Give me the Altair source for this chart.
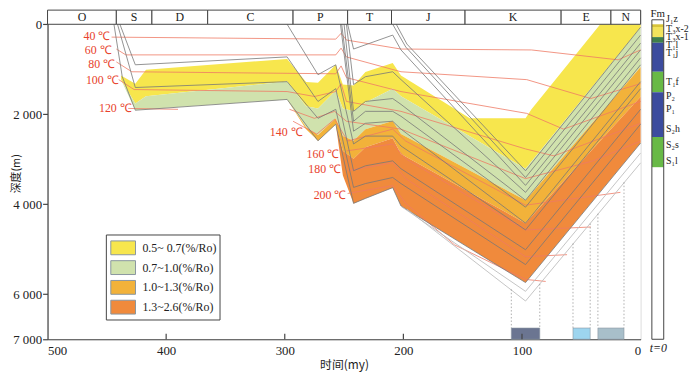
import altair as alt
import pandas as pd

SERIF = "Liberation Serif"
CJK = "Noto Sans CJK SC"

# ---------------- geological periods (top bar), boundaries as drawn ----------------
period_names = ["O", "S", "D", "C", "P", "T", "J", "K", "E", "N"]
period_start = [500, 442, 412, 365, 293, 247, 210, 148, 67, 25]
period_end = [442, 412, 365, 293, 247, 210, 148, 67, 25, 0]

# ---------------- maturity zones: boundaries (depth, m) at times (my) ----------------
zone_t = [438, 426, 417, 298, 282, 272, 257, 251, 242, 232, 209, 202, 144, 97, 92, 34, 0]
b0 = [1140, 1320, 1010, 770, 1280, 1300, 900, 1340, 1360, 1060, 860, 1140, 2090, 2090, 1890, 0, 0]
b1 = [1230, 1760, 1600, 1270, 1820, 1870, 1470, 1870, 1930, 1740, 1430, 1600, 2490, 3210, 3050, 1170, 70]
b2 = [1230, 1910, 1890, 1670, 2290, 2460, 2090, 2480, 2590, 2330, 2150, 2440, 3250, 3910, 3760, 1990, 950]
b3 = [1230, 1910, 1890, 1670, 2330, 2590, 2220, 2810, 2990, 2730, 2530, 2880, 3730, 4420, 4270, 2590, 1610]
b4 = [1230, 1910, 1890, 1670, 2330, 2590, 2220, 3360, 3980, 3870, 3630, 4040, 4980, 5740, 5580, 3720, 2640]
zone_labels = ["0.5~ 0.7(%/Ro)", "0.7~1.0(%/Ro)", "1.0~1.3(%/Ro)", "1.3~2.6(%/Ro)"]
zone_colors = ["#f7e64d", "#d0e2ad", "#f2b23a", "#f08a3c"]

# ---------------- burial history curves (time my, depth m) ----------------
s_bot_t = [444, 437, 426, 298, 272, 257, 242, 232, 209, 202, 97, 0]
s_bot_d = [0, 1165, 1910, 1670, 2590, 2220, 3980, 3870, 3630, 4040, 5740, 2640]
s_mid_t = [441, 426, 298, 272, 257, 242, 232, 209, 202, 97, 0]
s_mid_d = [0, 1405, 1275, 2090, 1890, 3625, 3540, 3405, 3540, 5340, 2220]
s_top_t = [439, 426, 298, 272, 257, 242, 232, 209, 202, 97, 0]
s_top_d = [0, 900, 725, 1715, 1430, 3255, 3145, 3035, 3210, 5010, 1890]
p_t = [298, 272, 257, 242, 232, 209, 202, 97, 0]
p_d = [0, 1120, 900, 2660, 2485, 2485, 2705, 4570, 1430]
t4_t = [253, 242, 232, 209, 202, 97, 0]
t4_d = [0, 2375, 2200, 2155, 2330, 4420, 1275]
t3_t = [252, 242, 232, 209, 202, 97, 0]
t3_d = [0, 2155, 1935, 1935, 2045, 4065, 900]
t2_t = [250, 242, 232, 209, 202, 97, 0]
t2_d = [0, 1935, 1715, 1650, 1780, 3910, 745]
t1_t = [248, 242, 232, 209, 202, 97, 0]
t1_d = [0, 1340, 1165, 1055, 1230, 3735, 570]
ttop_t = [247, 242, 209, 202, 97, 0]
ttop_d = [0, 550, 240, 570, 3580, 420]
jb_t = [209, 198, 97, 0]
jb_d = [0, 505, 3405, 240]
ja_t = [206, 197, 97, 0]
ja_d = [0, 440, 3255, 65]
l1_t = [202, 97, 0]
l1_d = [4045, 5935, 2860]
l2_t = [197, 97, 0]
l2_d = [4110, 6150, 3080]

# ---------------- isotherms ----------------
iso40_t = [446, 257, 252.5, 248, 202, 92, 19, 0]
iso40_d = [285, 330, 200, 350, 550, 570, 790, 570]
iso60_t = [442, 434, 257, 252.5, 248, 202, 96, 42, 0]
iso60_d = [550, 680, 680, 530, 725, 1055, 1230, 1650, 1320]
iso80_t = [442, 429, 257, 252.5, 248, 202, 96, 65, 0]
iso80_d = [835, 1055, 1100, 925, 1185, 1495, 1980, 2330, 1715]
iso100_t = [440, 427, 298, 275, 257, 252.5, 248, 202, 97, 73, 0]
iso100_d = [1230, 1450, 1495, 1605, 1495, 1320, 1715, 1935, 2770, 2925, 2200]
iso120a_t = [432, 390]
iso120a_d = [1870, 1890]
iso120b_t = [296, 275, 258, 248, 202, 97, 40, 0]
iso120b_d = [1890, 2090, 1935, 2155, 2330, 3430, 3035, 2595]
iso140_t = [293, 273, 258, 247, 209, 198, 97, 17]
iso140_d = [2155, 2440, 2110, 2595, 2330, 2595, 4020, 3735]
iso160_t = [248, 209, 198, 97, 42]
iso160_d = [2815, 2660, 2990, 4570, 4505]
iso180_t = [247, 209, 198, 97, 62]
iso180_d = [3255, 3075, 3430, 5165, 5120]
iso200_t = [247, 209, 198, 157, 97, 80]
iso200_d = [3760, 3585, 3980, 4900, 5670, 5715]

temp_labels = ["40 ℃", "60 ℃", "80 ℃", "100 ℃", "120 ℃", "140 ℃", "160 ℃", "180 ℃", "200 ℃"]
temp_label_t = [447, 446, 443, 440, 429, 285, 254, 252.5, 248]
temp_label_d = [265, 570, 880, 1230, 1860, 2395, 2880, 3210, 3800]

# ---------------- bottom event bars and dotted guides ----------------
bar_start = [109, 57, 36]
bar_end = [85, 42.5, 14]
bar_colors = ["#6b7591", "#9dd5ef", "#a8bfca"]
guide_t = [109, 85, 57, 42.5, 36, 14]
guide_top = [5890, 5770, 4870, 4430, 4210, 3510]

# ---------------- stratigraphic column (right) ----------------
fm_names = ["J₁z", "T₃x-2", "T₃x-1", "T₁l", "T₁j", "T₁f", "P₂", "P₁", "S₂h", "S₂s", "S₁l"]
fm_label_d = [-115, 103, 279, 455, 631, 1275, 1605, 1890, 2330, 2680, 3035]
col_seg_top = [0, 60, 285, 411, 1055, 1510, 2505, 3180]
col_seg_bot = [60, 285, 411, 1055, 1510, 2505, 3180, 7000]
col_seg_color = ["#d8c43c", "#f2e35c", "#3f7f4a", "#3c4c9e", "#68b946", "#3c4c9e", "#68b946", "#ffffff"]

# ================= build tables =================
zone_rows = []
bounds = [b0, b1, b2, b3, b4]
for k, lab in enumerate(zone_labels):
    for i, t in enumerate(zone_t):
        zone_rows.append({"zone": lab, "t": t, "top": bounds[k][i], "bot": bounds[k + 1][i]})
zones_df = pd.DataFrame(zone_rows)


def long_lines(dct):
    rows = []
    for name, (ts, ds) in dct.items():
        for i, (t, d) in enumerate(zip(ts, ds)):
            rows.append({"id": name, "i": i, "t": t, "d": d})
    return pd.DataFrame(rows)


burial_df = long_lines({
    "s_bot": (s_bot_t, s_bot_d), "s_mid": (s_mid_t, s_mid_d), "s_top": (s_top_t, s_top_d),
    "p": (p_t, p_d), "t4": (t4_t, t4_d), "t3": (t3_t, t3_d), "t2": (t2_t, t2_d),
    "t1": (t1_t, t1_d), "ttop": (ttop_t, ttop_d), "jb": (jb_t, jb_d), "ja": (ja_t, ja_d),
})
light_df = long_lines({"l1": (l1_t, l1_d), "l2": (l2_t, l2_d)})
iso_df = long_lines({
    "40": (iso40_t, iso40_d), "60": (iso60_t, iso60_d), "80": (iso80_t, iso80_d),
    "100": (iso100_t, iso100_d), "120a": (iso120a_t, iso120a_d), "120b": (iso120b_t, iso120b_d),
    "140": (iso140_t, iso140_d), "160": (iso160_t, iso160_d), "180": (iso180_t, iso180_d),
    "200": (iso200_t, iso200_d),
})
temp_df = pd.DataFrame({"label": temp_labels, "t": temp_label_t, "d": temp_label_d})
period_df = pd.DataFrame({"name": period_names, "start": period_start, "end": period_end})
bars_df = pd.DataFrame({"start": bar_start, "end": bar_end, "c": bar_colors})
guide_df = pd.DataFrame({"t": guide_t, "top": guide_top})
fm_df = pd.DataFrame({"name": fm_names, "d": fm_label_d})
col_df = pd.DataFrame({"top": col_seg_top, "bot": col_seg_bot, "c": col_seg_color})
tick_df = pd.DataFrame({"t": [400, 300, 200, 100]})

xs = alt.Scale(domain=[500, 0], nice=False, zero=False)
ys = alt.Scale(domain=[-315, 7000], reverse=True, nice=False, zero=False)


def X(f):
    return alt.X(f, scale=xs)


def Y(f):
    return alt.Y(f, scale=ys)


zones = alt.Chart(zones_df).mark_area(opacity=1).encode(
    x=alt.X("t:Q", scale=xs, axis=alt.Axis(
        values=[500, 400, 300, 200, 100, 0], ticks=False, grid=False,
        labelFont=SERIF, labelFontSize=13, labelColor="#222", labelPadding=5,
        title="时间(my)", titleFont=CJK, titleFontSize=12, titleFontWeight="normal",
        titleColor="#222", titlePadding=3, domainColor="#444", domainWidth=1.2)),
    y=alt.Y("top:Q", scale=ys, stack=None, axis=alt.Axis(
        values=[0, 2000, 4000, 6000, 7000],
        labelExpr="replace(format(datum.value, ','), ',', ' ')",
        tickSize=5, tickColor="#444", tickWidth=1.2, grid=False, labelFlush=False,
        labelFont=SERIF, labelFontSize=13, labelColor="#222", labelPadding=1,
        title="深度(m)", titleFont=CJK, titleFontSize=11, titleFontWeight="normal",
        titleColor="#222", titleX=-31, titleY=165, titleBaseline="middle", titleAngle=270,
        domainColor="#444", domainWidth=1.2)),
    y2="bot:Q",
    color=alt.Color("zone:N", scale=alt.Scale(domain=zone_labels, range=zone_colors),
                    legend=alt.Legend(orient="none", legendX=59, legendY=227, title=None,
                                      symbolType="M-1.25,-0.7H1.25V0.7H-1.25Z", symbolSize=400,
                                      symbolStrokeColor="#9a9a9a", symbolStrokeWidth=1,
                                      symbolOffset=4, labelOffset=9, labelFont=SERIF,
                                      labelFontSize=12, labelColor="#222", fillColor="white",
                                      strokeColor="#444", padding=3, rowPadding=0,
                                      symbolOpacity=1)),
)

iso = alt.Chart(iso_df).mark_line(color="#ef7a64", strokeWidth=1, opacity=0.8).encode(
    x=X("t:Q"), y=Y("d:Q"), detail="id:N", order="i:Q")

burial = alt.Chart(burial_df).mark_line(color="#777777", strokeWidth=0.8).encode(
    x=X("t:Q"), y=Y("d:Q"), detail="id:N", order="i:Q")

light = alt.Chart(light_df).mark_line(color="#bdbdbd", strokeWidth=0.9).encode(
    x=X("t:Q"), y=Y("d:Q"), detail="id:N", order="i:Q")

temps = alt.Chart(temp_df).mark_text(align="right", baseline="middle", font=SERIF,
                                      fontSize=12, color="#e8412c").encode(
    x=X("t:Q"), y=Y("d:Q"), text="label:N")

periods = alt.Chart(period_df).mark_rect(fill="white", stroke="#444", strokeWidth=1).encode(
    x=X("start:Q"), x2="end:Q", y=alt.Y(datum=-315, scale=ys), y2=alt.Y2(datum=0))

period_txt = alt.Chart(period_df).transform_calculate(mid="(datum.start + datum.end) / 2").mark_text(
    font=SERIF, fontSize=12, color="#222", baseline="middle").encode(
    x=X("mid:Q"), y=alt.Y(datum=-150, scale=ys), text="name:N")

bars = alt.Chart(bars_df).mark_rect(stroke="#8a96a0", strokeWidth=0.6).encode(
    x=X("start:Q"), x2="end:Q", y=alt.Y(datum=6750, scale=ys), y2=alt.Y2(datum=7000),
    color=alt.Color("c:N", scale=None))

guides = alt.Chart(guide_df).mark_rule(color="#9a9a9a", strokeWidth=0.8, strokeDash=[1.5, 2]).encode(
    x=X("t:Q"), y=Y("top:Q"), y2=alt.Y2(datum=6750))

inner_ticks = alt.Chart(tick_df).mark_rule(color="#444", strokeWidth=1.2).encode(
    x=X("t:Q"), y=alt.Y(datum=6880, scale=ys), y2=alt.Y2(datum=7000))

col_segs = alt.Chart(col_df).mark_rect().encode(
    x=alt.X(datum=-9.5, scale=xs), x2=alt.X2(datum=-19.5),
    y=Y("top:Q"), y2="bot:Q", color=alt.Color("c:N", scale=None))

col_box = alt.Chart(pd.DataFrame({"k": [0]})).mark_rect(fill=None, stroke="#444", strokeWidth=1).encode(
    x=alt.X(datum=-9.5, scale=xs), x2=alt.X2(datum=-19.5),
    y=alt.Y(datum=-100, scale=ys), y2=alt.Y2(datum=7000))

fm_txt = alt.Chart(fm_df).mark_text(align="left", baseline="middle", font=SERIF, fontSize=10,
                                    color="#222").encode(
    x=alt.X(datum=-21.5, scale=xs), y=Y("d:Q"), text="name:N")

fm_head = alt.Chart(pd.DataFrame({"s": ["Fm"]})).mark_text(
    font=SERIF, fontSize=11, color="#222", baseline="bottom").encode(
    x=alt.X(datum=-14.5, scale=xs), y=alt.Y(datum=-110, scale=ys), text="s:N")

t0 = alt.Chart(pd.DataFrame({"s": ["t=0"]})).mark_text(
    font=SERIF, fontSize=12, fontStyle="italic", color="#222", baseline="middle").encode(
    x=alt.X(datum=-15, scale=xs), y=alt.Y(datum=7200, scale=ys), text="s:N")

chart = alt.layer(
    zones, iso, burial, light, guides, bars, inner_ticks, temps,
    periods, period_txt, col_segs, col_box, fm_txt, fm_head, t0
).properties(
    width=600, height=333,
    padding={"left": 40, "top": 0, "right": 52, "bottom": 33},
    autosize=alt.AutoSizeParams(type="none"),
).configure_view(stroke="#444", strokeWidth=1.2).configure(background="white")

chart.save("out.html", embed_options={"renderer": "svg", "actions": False})
